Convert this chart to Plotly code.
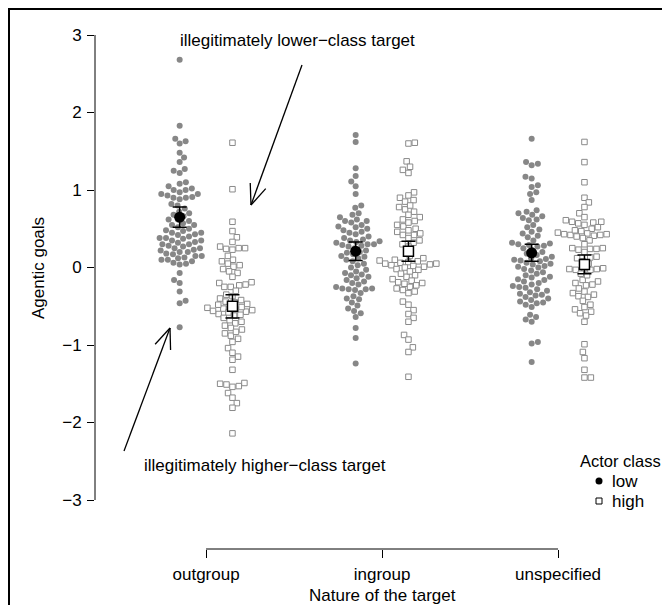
import numpy as np
import plotly.graph_objects as go

# ---------------- data ----------------
categories = ["outgroup", "ingroup", "unspecified"]
actor_classes = ["low", "high"]

outgroup_low = [2.68, 1.83, 1.66, 1.63, 1.60, 1.48, 1.42, 1.36, 1.27, 1.25, 1.22, 1.10, 1.08,
                1.05, 1.02, 1.00, 0.97, 0.95, 0.93, 0.91, 0.88, 0.82, 0.80, 0.76, 0.72, 0.70,
                0.68, 0.66, 0.62, 0.60, 0.57, 0.55, 0.52, 0.50, 0.48, 0.47, 0.45, 0.43, 0.42,
                0.40, 0.38, 0.37, 0.35, 0.33, 0.32, 0.30, 0.28, 0.27, 0.25, 0.23, 0.22, 0.20,
                0.18, 0.17, 0.15, 0.13, 0.12, 0.10, 0.08, 0.06, 0.04, -0.07, -0.16, -0.20,
                -0.31, -0.43, -0.46, -0.77, 0.95, 1.00, 0.90, 0.45, 0.38, 0.30, 0.20, 0.15,
                0.10, 0.25, 0.35, 0.05, 0.90, 0.62, 0.55]
outgroup_high = [1.61, 1.01, 0.59, 0.47, 0.39, 0.33, 0.27, 0.25, 0.25, 0.24, 0.23, 0.10, 0.08,
                 0.05, 0.03, 0.01, -0.02, -0.05, -0.07, -0.19, -0.20, -0.22, -0.23, -0.25,
                 -0.25, -0.35, -0.37, -0.40, -0.42, -0.45, -0.47, -0.50, -0.52, -0.53, -0.55,
                 -0.57, -0.58, -0.60, -0.62, -0.65, -0.68, -0.72, -0.75, -0.78, -0.80, -0.85,
                 -0.88, -0.92, -0.96, -1.04, -1.10, -1.15, -1.19, -1.32, -1.49, -1.50, -1.51,
                 -1.53, -1.54, -1.62, -1.68, -1.75, -1.81, -2.14, -0.48, -0.51, -0.44, -0.56,
                 -0.61, -0.54, -0.12, 0.15, -0.30, -0.70, -0.83]
ingroup_low = [1.71, 1.62, 1.28, 1.18, 1.11, 1.05, 0.95, 0.80, 0.77, 0.68, 0.65, 0.62, 0.60,
               0.58, 0.55, 0.52, 0.50, 0.48, 0.45, 0.43, 0.40, 0.38, 0.36, 0.35, 0.34, 0.33,
               0.32, 0.30, 0.29, 0.28, 0.27, 0.19, 0.17, 0.15, 0.12, 0.10, 0.08, 0.05, 0.03,
               0.00, -0.03, -0.07, -0.09, -0.12, -0.14, -0.16, -0.18, -0.20, -0.22, -0.25,
               -0.27, -0.27, -0.28, -0.28, -0.29, -0.33, -0.37, -0.41, -0.45, -0.49, -0.53,
               -0.56, -0.59, -0.64, -0.78, -0.91, -1.24, 0.22, 0.25, 0.20, 0.70, 0.46, 0.53,
               -0.05, 0.14, -0.40, -0.10, 0.60, 0.30]
ingroup_high = [1.61, 1.60, 1.37, 1.30, 1.26, 1.22, 0.97, 0.93, 0.90, 0.87, 0.85, 0.78, 0.75,
                0.72, 0.68, 0.65, 0.55, 0.53, 0.50, 0.48, 0.46, 0.44, 0.42, 0.42, 0.35, 0.32,
                0.30, 0.27, 0.10, 0.09, 0.08, 0.07, 0.06, 0.05, 0.05, 0.04, 0.03, 0.02, 0.01,
                0.00, -0.02, -0.03, -0.10, -0.12, -0.15, -0.17, -0.19, -0.21, -0.23, -0.25,
                -0.27, -0.29, -0.31, -0.33, -0.44, -0.48, -0.55, -0.60, -0.65, -0.70, -0.87,
                -0.93, -1.03, -1.09, -1.41, 0.60, 0.38, 0.15, 0.12, -0.05, -0.08, 0.80, 0.58,
                0.62, -0.20]
unspecified_low = [1.66, 1.36, 1.34, 1.32, 1.17, 1.15, 1.06, 1.04, 0.97, 0.87, 0.74, 0.72, 0.70,
                   0.68, 0.66, 0.64, 0.62, 0.61, 0.52, 0.49, 0.46, 0.44, 0.41, 0.39, 0.32, 0.31,
                   0.30, 0.29, 0.28, 0.27, 0.22, 0.20, 0.18, 0.16, 0.14, 0.12, 0.11, 0.10, 0.08,
                   0.06, 0.05, 0.04, 0.02, 0.01, 0.00, -0.02, -0.04, -0.06, -0.08, -0.10, -0.12,
                   -0.13, -0.16, -0.18, -0.20, -0.22, -0.24, -0.26, -0.28, -0.30, -0.32, -0.34,
                   -0.36, -0.38, -0.40, -0.42, -0.44, -0.46, -0.48, -0.51, -0.61, -0.64, -0.67,
                   -0.70, -0.96, -0.98, -1.22, 0.35, 0.25, 0.55, 0.09, -0.15, -0.25, -0.35,
                   -0.45, 0.95]
unspecified_high = [1.62, 1.36, 1.10, 0.90, 0.84, 0.78, 0.70, 0.61, 0.59, 0.59, 0.58, 0.57, 0.52,
                    0.50, 0.47, 0.45, 0.44, 0.43, 0.43, 0.42, 0.42, 0.41, 0.40, 0.38, 0.35, 0.25,
                    0.25, 0.24, 0.24, 0.23, 0.14, 0.13, 0.12, -0.01, -0.01, -0.02, -0.02, -0.03,
                    -0.03, -0.16, -0.18, -0.20, -0.22, -0.23, -0.31, -0.33, -0.35, -0.37, -0.38,
                    -0.48, -0.51, -0.54, -0.57, -0.59, -0.70, -0.99, -1.09, -1.17, -1.32, -1.42,
                    -1.42, 0.30, 0.20, 0.08, 0.05, -0.08, -0.10, -0.27, -0.43, -0.62, 0.55, 0.48,
                    0.65]

# group means and standard errors
means_low = [0.65, 0.21, 0.19]
se_low = [0.13, 0.12, 0.11]
means_high = [-0.50, 0.21, 0.04]
se_high = [0.15, 0.13, 0.12]

y_tick_values = [-3, -2, -1, 0, 1, 2, 3]

# ---------------- layout geometry (figure pixels; page adds an 8px body margin) ----------------
W, H = 660, 597
L, R, T, B = 87, 23, 12, 56
PW, PH = W - L - R, H - T - B
X_RANGE = [0.369, 0.369 + PW / 176.0]
Y_RANGE = [-3.0 - (H - B - 492) / 77.5, 3.0 + (27 - T) / 77.5]
PX_PER_X = PW / (X_RANGE[1] - X_RANGE[0])
PX_PER_Y = PH / (Y_RANGE[1] - Y_RANGE[0])
OFFSET = 0.15
FONT = "Liberation Sans, Arial, Helvetica, sans-serif"
FS = 17


def px2paper(px, py):
    return (px - L) / PW, 1 - (py - T) / PH


def swarm(values, d=6.4):
    """Simple beeswarm: returns horizontal offsets (data units) for each value."""
    ys = np.asarray(values) * PX_PER_Y
    order = np.argsort(ys, kind="stable")
    placed = []
    offs = np.zeros(len(ys))
    flip = 1
    for i in order:
        y = ys[i]
        cands = [0.0]
        for (px, py) in placed:
            dy = abs(py - y)
            if dy < d:
                dx = np.sqrt(d * d - dy * dy)
                cands += [px + dx, px - dx]
        valid = [c for c in cands
                 if all((c - px) ** 2 + (y - py) ** 2 >= d * d - 1e-6 for px, py in placed)]
        best_abs = min(abs(c) for c in valid)
        best = [c for c in valid if abs(abs(c) - best_abs) < 1e-6]
        if len(best) > 1:
            c = max(best) if flip > 0 else min(best)
            flip = -flip
        else:
            c = best[0]
        placed.append((c, y))
        offs[i] = c / PX_PER_X
    return offs


fig = go.Figure()

low_groups = [outgroup_low, ingroup_low, unspecified_low]
high_groups = [outgroup_high, ingroup_high, unspecified_high]

for k, vals in enumerate(low_groups):
    xo = swarm(vals)
    fig.add_trace(go.Scatter(
        x=(k + 1 - OFFSET) + xo, y=vals, mode="markers",
        marker=dict(symbol="circle", size=6, color="#878787", line=dict(width=0)),
        showlegend=False, hoverinfo="y"))
for k, vals in enumerate(high_groups):
    xo = swarm(vals)
    fig.add_trace(go.Scatter(
        x=(k + 1 + OFFSET) + xo, y=vals, mode="markers",
        marker=dict(symbol="square", size=5.5, color="white",
                    line=dict(width=1, color="#8a8a8a")),
        showlegend=False, hoverinfo="y"))

xs = np.arange(1, len(categories) + 1)
fig.add_trace(go.Scatter(
    x=xs - OFFSET, y=means_low, mode="markers",
    marker=dict(symbol="circle", size=11, color="black"),
    error_y=dict(type="data", array=se_low, color="black", thickness=1.5, width=7),
    showlegend=False))
fig.add_trace(go.Scatter(
    x=xs + OFFSET, y=means_high, mode="markers",
    marker=dict(symbol="square", size=10, color="white", line=dict(width=1.5, color="black")),
    error_y=dict(type="data", array=se_high, color="black", thickness=1.5, width=7),
    showlegend=False))

shapes = []
# y axis line (only across tick range)
shapes.append(dict(type="line", xref="paper", yref="y", x0=0, x1=0,
                   y0=min(y_tick_values), y1=max(y_tick_values),
                   line=dict(color="black", width=1)))
# x axis bracket line
shapes.append(dict(type="line", xref="x", yref="paper", x0=1, x1=len(categories), y0=0, y1=0,
                   line=dict(color="black", width=1)))


def arrow(tail, head, length=22, ang=22):
    (tx, ty), (hx, hy) = tail, head
    out = []
    a0, b0 = px2paper(tx, ty)
    a1, b1 = px2paper(hx, hy)
    out.append(dict(type="line", xref="paper", yref="paper", x0=a0, y0=b0, x1=a1, y1=b1,
                    line=dict(color="black", width=1.3)))
    vx, vy = tx - hx, ty - hy
    n = np.hypot(vx, vy)
    vx, vy = vx / n, vy / n
    for s in (-1, 1):
        th = np.radians(ang * s)
        wx = vx * np.cos(th) - vy * np.sin(th)
        wy = vx * np.sin(th) + vy * np.cos(th)
        e0, f0 = px2paper(hx + wx * length, hy + wy * length)
        out.append(dict(type="line", xref="paper", yref="paper", x0=a1, y0=b1, x1=e0, y1=f0,
                        line=dict(color="black", width=1.3)))
    return out


shapes += arrow((294, 57), (243, 197))
shapes += arrow((116, 443), (162, 320))

# outer frame (figure border)
f0 = px2paper(1, 1)
f1 = px2paper(W - 1, H + 5)
shapes.append(dict(type="rect", xref="paper", yref="paper", x0=f0[0], y0=f1[1], x1=f1[0], y1=f0[1],
                   line=dict(color="black", width=2), fillcolor="rgba(0,0,0,0)", layer="above"))

# legend symbols
lx, ly1 = px2paper(591, 473)
_, ly2 = px2paper(591, 493)
shapes.append(dict(type="circle", xref="paper", yref="paper", xsizemode="pixel", ysizemode="pixel",
                   xanchor=lx, yanchor=ly1, x0=-3.5, x1=3.5, y0=-3.5, y1=3.5,
                   fillcolor="black", line=dict(color="black", width=0)))
shapes.append(dict(type="rect", xref="paper", yref="paper", xsizemode="pixel", ysizemode="pixel",
                   xanchor=lx, yanchor=ly2, x0=-3, x1=3, y0=-3, y1=3,
                   fillcolor="white", line=dict(color="black", width=1)))

annotations = []


def text(s, px, py, size=FS, xanchor="center", angle=0):
    ax, ay = px2paper(px, py)
    annotations.append(dict(text=s, x=ax, y=ay, xref="paper", yref="paper", showarrow=False,
                            xanchor=xanchor, yanchor="middle", textangle=angle,
                            font=dict(family=FONT, size=size, color="black")))


text("illegitimately lower\u2212class target", 289, 32)
text("illegitimately higher\u2212class target", 257, 458)
text("Actor class", 612, 453, size=16.5)
text("low", 602, 473, xanchor="left")
text("high", 602, 493, xanchor="left")
text("Nature of the target", 374, 587)
text("Agentic goals", 30, 260, angle=-90)

fig.update_layout(
    width=W, height=H,
    margin=dict(l=L, r=R, t=T, b=B, pad=0),
    plot_bgcolor="white", paper_bgcolor="white",
    font=dict(family=FONT, size=FS, color="black"),
    shapes=shapes, annotations=annotations,
    xaxis=dict(range=X_RANGE, tickvals=list(xs), ticktext=categories, ticks="outside",
               ticklen=8, tickwidth=1, tickcolor="black", showline=False, showgrid=False,
               zeroline=False, ticklabelstandoff=2, tickfont=dict(size=FS)),
    yaxis=dict(range=Y_RANGE, tickvals=y_tick_values, ticks="outside", ticklen=7, tickwidth=1,
               tickcolor="black", showline=False, showgrid=False, zeroline=False,
               ticklabelstandoff=2, tickfont=dict(size=FS)),
)

fig.write_html("out.html")
